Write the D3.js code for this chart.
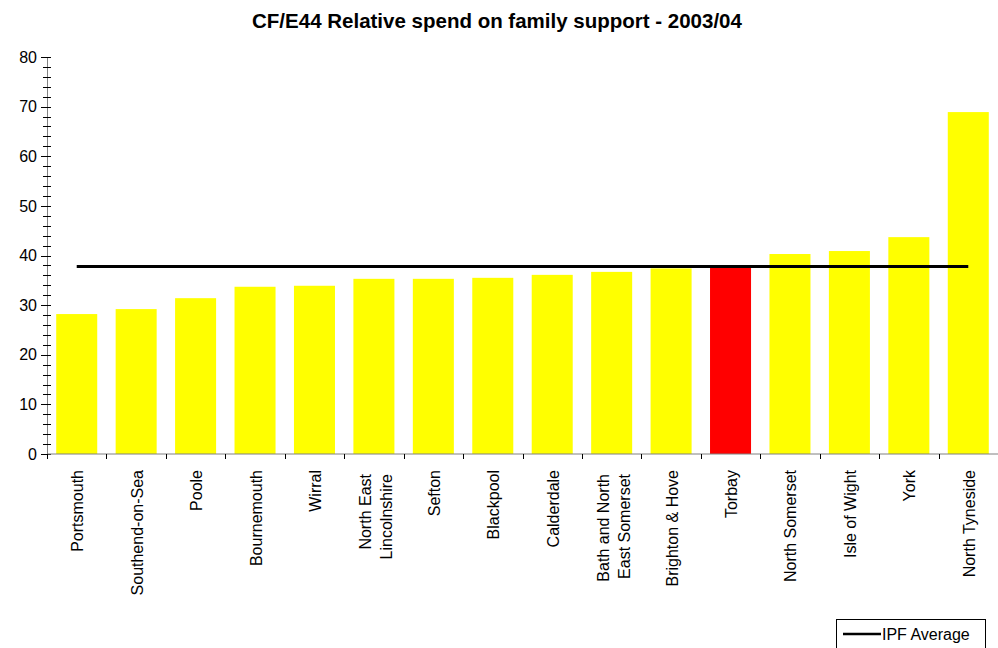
<!DOCTYPE html>
<html>
<head>
<meta charset="utf-8">
<script src="https://cdn.jsdelivr.net/npm/d3@7"></script>
<style>
  body { margin: 0; background: #fff; }
  text { font-family: "Liberation Sans", Arial, sans-serif; }
</style>
</head>
<body>
<svg width="998" height="648"></svg>
<script>
// categories and values
var authorities = ["Portsmouth", "Southend-on-Sea", "Poole", "Bournemouth", "Wirral",
    "North East|Lincolnshire", "Sefton", "Blackpool", "Calderdale", "Bath and North|East Somerset",
    "Brighton & Hove", "Torbay", "North Somerset", "Isle of Wight", "York", "North Tyneside"];
var spend = [28.2, 29.2, 31.4, 33.7, 33.9, 35.3, 35.3, 35.5, 36.1, 36.7, 37.4, 37.8, 40.3, 40.9, 43.7, 68.9];
var highlight = "Torbay";
var ipfAverage = 37.8;
var yTicks = [0, 10, 20, 30, 40, 50, 60, 70, 80];

var svg = d3.select("svg");
var plotLeft = 47, plotRight = 998, plotTop = 57, plotBottom = 454;

var x = d3.scaleBand().domain(authorities).range([plotLeft, plotRight]).paddingInner(0.31).paddingOuter(0.155);
var y = d3.scaleLinear().domain([0, 80]).range([plotBottom, plotTop]);

// title
svg.append("text")
    .attr("x", 497).attr("y", 28)
    .attr("text-anchor", "middle")
    .attr("font-size", 20.5).attr("font-weight", "bold")
    .text("CF/E44 Relative spend on family support - 2003/04");

// bars
svg.append("g").selectAll("rect")
    .data(authorities)
    .enter()
    .append("rect")
    .attr("x", d => x(d))
    .attr("y", (d, i) => y(spend[i]))
    .attr("width", x.bandwidth())
    .attr("height", (d, i) => y(0) - y(spend[i]))
    .attr("fill", d => d == highlight ? "#ff0000" : "#ffff00");

// IPF average line, centre of first to centre of last category
var half = x.bandwidth() / 2;
svg.append("line")
    .attr("x1", x(authorities[0]) + half)
    .attr("x2", x(authorities[authorities.length - 1]) + half)
    .attr("y1", y(ipfAverage)).attr("y2", y(ipfAverage))
    .attr("stroke", "#000").attr("stroke-width", 3);

// y axis with minor ticks every 2
var axisY = d3.axisLeft(y).tickValues(yTicks).tickSize(0).tickPadding(10);
var gy = svg.append("g").attr("transform", "translate(" + plotLeft + ",0)").call(axisY);
gy.select(".domain").attr("stroke", "#808080");
gy.selectAll("text").attr("font-size", 16).attr("fill", "#000");
gy.append("g").selectAll("line")
    .data(d3.range(0, 81, 2))
    .enter()
    .append("line")
    .attr("x1", d => d % 10 == 0 ? -6 : -4).attr("x2", 4)
    .attr("y1", d => Math.round(y(d)) + 0.5).attr("y2", d => Math.round(y(d)) + 0.5)
    .attr("stroke", "#000");

// x axis
var gx = svg.append("g").attr("transform", "translate(0," + plotBottom + ")");
gx.append("line").attr("x1", plotLeft).attr("x2", plotRight).attr("stroke", "#808080");
var step = x.step();
gx.selectAll(".tk")
    .data(d3.range(authorities.length + 1))
    .enter()
    .append("line")
    .attr("class", "tk")
    .attr("x1", i => Math.round(plotLeft + i * step) + 0.5)
    .attr("x2", i => Math.round(plotLeft + i * step) + 0.5)
    .attr("y1", 0).attr("y2", 5)
    .attr("stroke", "#000");

// rotated labels
var labels = gx.selectAll(".lbl")
    .data(authorities)
    .enter()
    .append("text")
    .attr("class", "lbl")
    .attr("transform", d => {
        var n = d.split("|").length;
        return "translate(" + (x(d) + half + 6.5 - (n - 1) * 9.5) + "," + (16 + (n - 1) * 4) + ") rotate(-90)";
    })
    .attr("text-anchor", "end")
    .attr("font-size", 16);
labels.each(function(d) {
    var parts = d.split("|");
    var t = d3.select(this);
    parts.forEach((p, k) => {
        t.append("tspan").attr("x", 0).attr("dy", k == 0 ? 0 : 21).text(p);
    });
});

// legend
var lg = svg.append("g");
lg.append("rect")
    .attr("x", 836.5).attr("y", 619.5).attr("width", 149).attr("height", 40)
    .attr("fill", "#fff").attr("stroke", "#000");
lg.append("line")
    .attr("x1", 843).attr("x2", 881).attr("y1", 634).attr("y2", 634)
    .attr("stroke", "#000").attr("stroke-width", 2.5);
lg.append("text")
    .attr("x", 882).attr("y", 640)
    .attr("font-size", 16)
    .text("IPF Average");
</script>
</body>
</html>
